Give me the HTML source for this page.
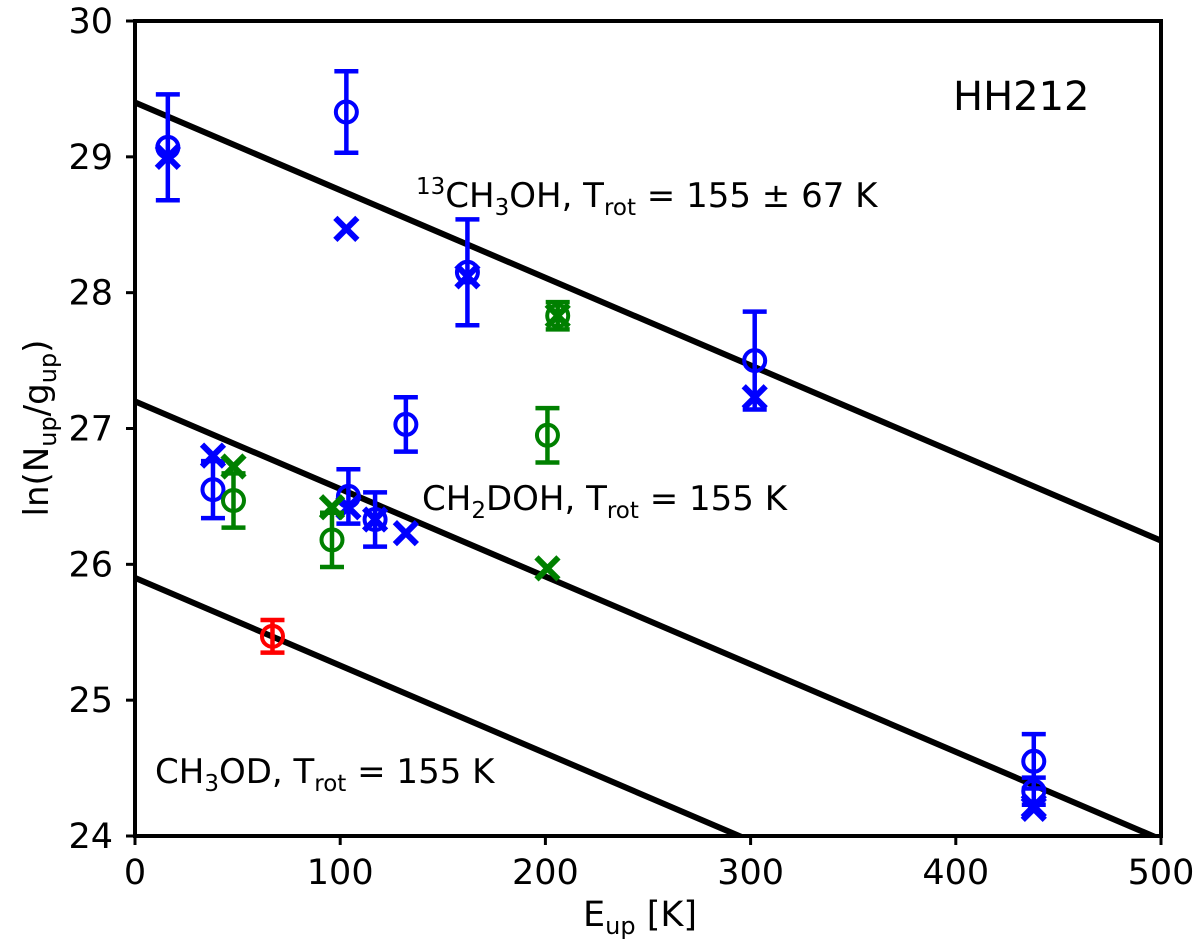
<!DOCTYPE html>
<html><head><meta charset="utf-8"><style>
html,body{margin:0;padding:0;background:#fff;width:1200px;height:949px;overflow:hidden;position:relative;}
svg{display:block;font-family:"DejaVu Sans","Liberation Sans",sans-serif;position:absolute;left:0;top:0;overflow:hidden;}
</style></head><body>
<svg id="chart" width="1200" height="949" viewBox="0 0 1200 949" xmlns="http://www.w3.org/2000/svg">
<g id="plot"></g>
</svg>
<script>
// --- data ---
const xTicks = [0,100,200,300,400,500];
const yTicks = [24,25,26,27,28,29,30];
const blueCircE = [16,103,162,302,38,132,104,117,438,438];
const blueCircV = [29.07,29.33,28.15,27.5,26.55,27.03,26.5,26.33,24.55,24.33];
const blueCircErr = [0.39,0.3,0.39,0.36,0.21,0.2,0.2,0.2,0.2,0.1];
const blueCrossE = [16,103,162,302,38,104,117,132,438,438];
const blueCrossV = [29.0,28.47,28.12,27.23,26.8,26.42,26.33,26.23,24.22,24.2];
const greenCircE = [48,96,206,201];
const greenCircV = [26.47,26.18,27.83,26.95];
const greenCircErr = [0.2,0.2,0.1,0.2];
const greenCrossE = [48,96,206,201];
const greenCrossV = [26.72,26.42,27.83,25.97];
const redCircE = [67];
const redCircV = [25.47];
const redCircErr = [0.12];
const lineIntercepts = [29.4,27.2,25.9];
const Trot = 155;

const X0=135,X1=1161,Y0=21,Y1=836;
const xs = e => X0 + (e-0)/(500-0)*(X1-X0);
const ys = v => Y1 - (v-24)/(30-24)*(Y1-Y0);
const NS="http://www.w3.org/2000/svg";
const g=document.getElementById('plot');
function mk(tag,attrs,parent){const el=document.createElementNS(NS,tag);for(const k in attrs)el.setAttribute(k,attrs[k]);(parent||g).appendChild(el);return el;}

const defs=mk('defs',{});
const cp=mk('clipPath',{id:'clip'},defs);
mk('rect',{x:X0,y:Y0,width:X1-X0,height:Y1-Y0},cp);

lineIntercepts.forEach((b,i)=>{
  const ln=mk('line',{x1:xs(0),y1:ys(b),x2:xs(500),y2:ys(b-500/Trot),stroke:'#000','stroke-width':6,'clip-path':'url(#clip)'});
  
  
});

function circles(E,V,Err,col,name){
  E.forEach((e,i)=>{
    const grp=mk('g',{});
    
    
    const x=xs(e),yl=ys(V[i]-Err[i]),yh=ys(V[i]+Err[i]);
    mk('line',{x1:x,x2:x,y1:yl,y2:yh,stroke:col,'stroke-width':4.5},grp);
    mk('line',{x1:x-12,x2:x+12,y1:yl,y2:yl,stroke:col,'stroke-width':4.5},grp);
    mk('line',{x1:x-12,x2:x+12,y1:yh,y2:yh,stroke:col,'stroke-width':4.5},grp);
    mk('circle',{cx:x,cy:ys(V[i]),r:10.5,fill:'none',stroke:col,'stroke-width':4},grp);
  });
}
function crosses(E,V,col,name){
  E.forEach((e,i)=>{
    const x=xs(e),y=ys(V[i]),d=11;
    const p=mk('path',{d:`M${x-d},${y-d}L${x+d},${y+d}M${x-d},${y+d}L${x+d},${y-d}`,stroke:col,'stroke-width':6,fill:'none'});
    
    
  });
}
circles(blueCircE,blueCircV,blueCircErr,'#0000ff','blue-circle');
crosses(blueCrossE,blueCrossV,'#0000ff','blue-cross');
circles(greenCircE,greenCircV,greenCircErr,'#008000','green-circle');
crosses(greenCrossE,greenCrossV,'#008000','green-cross');
circles(redCircE,redCircV,redCircErr,'#ff0000','red-circle');

const fr=mk('rect',{x:X0,y:Y0,width:X1-X0,height:Y1-Y0,fill:'none',stroke:'#000','stroke-width':4});



xTicks.forEach(t=>{
  mk('line',{x1:xs(t),x2:xs(t),y1:Y1,y2:Y1+9,stroke:'#000','stroke-width':3});
  const tx=mk('text',{x:xs(t),y:Y1+48,'font-size':35,'text-anchor':'middle'});
  tx.textContent=t;
  
  
});
yTicks.forEach(t=>{
  mk('line',{x1:X0-9,x2:X0,y1:ys(t),y2:ys(t),stroke:'#000','stroke-width':3});
  const tx=mk('text',{x:X0-22,y:ys(t)+12,'font-size':35,'text-anchor':'end'});
  tx.textContent=t;
  
  
});
</script>
<svg width="1200" height="949" xmlns="http://www.w3.org/2000/svg" font-family="DejaVu Sans, Liberation Sans, sans-serif">
<text x="640" y="926" font-size="35" text-anchor="middle">E<tspan font-size="24" dy="8">up</tspan><tspan dy="-8"> [K]</tspan></text>
<text transform="translate(48,428) rotate(-90)" font-size="34" text-anchor="middle">ln(N<tspan font-size="24" dy="8">up</tspan><tspan dy="-8">/g</tspan><tspan font-size="24" dy="8">up</tspan><tspan dy="-8">)</tspan></text>
<text x="953" y="110" font-size="40">HH212</text>
<text x="416" y="207" font-size="34"><tspan font-size="23" dy="-13">13</tspan><tspan dy="13">CH</tspan><tspan font-size="23" dy="8">3</tspan><tspan dy="-8">OH, T</tspan><tspan font-size="23" dy="8">rot</tspan><tspan dy="-8"> = 155 ± 67 K</tspan></text>
<text x="422" y="510" font-size="34">CH<tspan font-size="23" dy="8">2</tspan><tspan dy="-8">DOH, T</tspan><tspan font-size="23" dy="8">rot</tspan><tspan dy="-8"> = 155 K</tspan></text>
<text x="155" y="783" font-size="34">CH<tspan font-size="23" dy="8">3</tspan><tspan dy="-8">OD, T</tspan><tspan font-size="23" dy="8">rot</tspan><tspan dy="-8"> = 155 K</tspan></text>
</svg>
</body></html>
